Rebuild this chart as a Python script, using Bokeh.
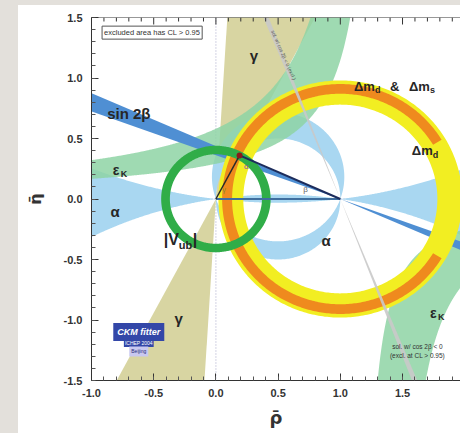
import numpy as np
from bokeh.plotting import figure
from bokeh.layouts import column, row
from bokeh.models import (Label, SingleIntervalTicker, PrintfTickFormatter, Span, Spacer)
from bokeh.embed import file_html
from bokeh.resources import INLINE

# ---------------- constraints in the (rho-bar, eta-bar) plane ----------------
apex_rho = [0.19]
apex_eta = [0.36]

gamma_window_deg = [62.0, 86.5]          # gamma (and its mirror through the origin)
alpha_window_deg = [70.0, 90.0]          # alpha crescents
alpha_axis_window_deg = [171.5, 187.0]   # alpha solution hugging the real axis
sin2beta_window_deg = [19.9, 23.6]       # beta from sin 2beta
sin2beta_alt_window_deg = [67.6, 69.0]   # second solution, cos 2beta < 0

dmd_radii = [0.78, 0.98]                 # |1 - rho - i eta| from dm_d
dms_radii = [0.87, 0.95]                 # dm_d & dm_s
dms_span_deg = [31.0, 329.0]
vub_radii = [0.37, 0.44]                 # |rho + i eta| from |Vub|

epsk_upper_a = [1.24, 1.34]              # eta (a - rho) = c, upper branch
epsk_upper_c = [0.72, 0.39]
epsk_lower_a = [1.16, 1.42]              # lower branch
epsk_lower_c = [0.21, 0.40]

rho_range = [-1.0, 1.966]
eta_range = [-1.5, 1.5]
tick_step = 0.5
minor_per_major = 5

TAN, SKY, EPSK = "#d8d5a2", "#a9d7f1", "#8ed3a4"
BLUE, YELLOW, ORANGE = "#4f8fd3", "#f2ee22", "#ef8a1e"
VUB, GREY, INK = "#30ad48", "#c9c9c9", "#262626"
AXIS = "#333333"
FONT = "Liberation Sans"

REACH = 4.0


def fan(cx, cy, a0, a1, n=60):
    t = np.radians(np.linspace(a0, a1, n))
    return (np.r_[cx, cx + REACH * np.cos(t)], np.r_[cy, cy + REACH * np.sin(t)])


def alpha_circle(a_deg):
    c = 0.5 / np.tan(np.radians(a_deg))
    return c, np.hypot(0.5, c), np.arctan2(c, 0.5)


def arc(c, r, t0, t1, n=160):
    t = np.linspace(t0, t1, n)
    return 0.5 + r * np.cos(t), c + r * np.sin(t)


def alpha_crescents(a_lo, a_hi):
    cb, rb, tb = alpha_circle(a_lo)
    cs, rs, ts = alpha_circle(a_hi)
    ux1, uy1 = arc(cb, rb, -tb, np.pi + tb)
    ux2, uy2 = arc(cs, rs, np.pi + ts, -ts)
    lx1, ly1 = arc(cs, rs, np.pi + ts, 2 * np.pi - ts)
    lx2, ly2 = arc(cb, rb, 2 * np.pi - tb, np.pi + tb)
    return [np.r_[ux1, ux2], np.r_[lx1, lx2]], [np.r_[uy1, uy2], np.r_[ly1, ly2]]


def alpha_axis_band(a_lo, a_hi):
    c_dn, r_dn, _ = alpha_circle(a_lo)
    c_up, r_up, _ = alpha_circle(a_hi - 180.0)
    rho = np.linspace(-1.3, 2.3, 500)
    top = c_up - np.sqrt(r_up ** 2 - (rho - 0.5) ** 2)
    bot = c_dn + np.sqrt(r_dn ** 2 - (rho - 0.5) ** 2)
    return np.r_[rho, rho[::-1]], np.r_[top, bot[::-1]]


def hyperbola_band(a, c, upper):
    if upper:
        ra = np.linspace(-1.3, a[0] - c[0] / 1.8, 400)
        rb = np.linspace(-1.3, a[1] - c[1] / 1.8, 400)
        ya, yb = c[0] / (a[0] - ra), c[1] / (a[1] - rb)
    else:
        ra = np.linspace(a[0] + c[0] / 1.8, 2.3, 400)
        rb = np.linspace(a[1] + c[1] / 1.8, 2.3, 400)
        ya, yb = -c[0] / (ra - a[0]), -c[1] / (rb - a[1])
    return np.r_[ra, rb[::-1]], np.r_[ya, yb[::-1]]


def circle_pts(cx, cy, r, a0=0.0, a1=360.0, n=360):
    t = np.radians(np.linspace(a0, a1, n))
    return cx + r * np.cos(t), cy + r * np.sin(t)


def ring(cx, cy, radii):
    ox, oy = circle_pts(cx, cy, radii[1])
    ix, iy = circle_pts(cx, cy, radii[0])
    return [[[list(ox), list(ix[::-1])]]], [[[list(oy), list(iy[::-1])]]]


p = figure(frame_width=369, frame_height=363,
           x_range=tuple(rho_range), y_range=tuple(eta_range),
           output_backend="svg", toolbar_location=None,
           min_border_left=73, min_border_right=0, min_border_top=12, min_border_bottom=53,
           background_fill_color="white", border_fill_color="white")
p.grid.visible = False
p.outline_line_color = None

# zero lines
for dim in ("height", "width"):
    p.add_layout(Span(location=0, dimension=dim, line_color="#a6a6c8",
                      line_dash="1 2", line_width=1, level="underlay"))

# gamma wedges
gx1, gy1 = fan(0, 0, gamma_window_deg[0], gamma_window_deg[1])
gx2, gy2 = fan(0, 0, gamma_window_deg[0] + 180, gamma_window_deg[1] + 180)
p.patches([gx1, gx2], [gy1, gy2], fill_color=TAN, line_color=None)

# alpha
ax, ay = alpha_crescents(*alpha_window_deg)
bx, by = alpha_axis_band(*alpha_axis_window_deg)
p.patches(ax + [bx], ay + [by], fill_color=SKY, line_color=None)

# epsilon_K
ex1, ey1 = hyperbola_band(epsk_upper_a, epsk_upper_c, True)
ex2, ey2 = hyperbola_band(epsk_lower_a, epsk_lower_c, False)
p.patches([ex1, ex2], [ey1, ey2], fill_color=EPSK, fill_alpha=0.85, line_color=None)

# sin 2beta
sx1, sy1 = fan(1, 0, 180 - sin2beta_window_deg[1], 180 - sin2beta_window_deg[0])
sx2, sy2 = fan(1, 0, 360 - sin2beta_window_deg[1], 360 - sin2beta_window_deg[0])
p.patches([sx1, sx2], [sy1, sy2], fill_color=BLUE, line_color=None)

# dm_d ring
mx, my = ring(1, 0, dmd_radii)
p.multi_polygons(xs=mx, ys=my, fill_color=YELLOW, line_color=None)

# dm_d & dm_s
ox, oy = circle_pts(1, 0, dms_radii[1], *dms_span_deg)
ix, iy = circle_pts(1, 0, dms_radii[0], *dms_span_deg)
p.patch(np.r_[ox, ix[::-1]], np.r_[oy, iy[::-1]], fill_color=ORANGE, line_color=None)

# |Vub| ring
vx, vy = ring(0, 0, vub_radii)
p.multi_polygons(xs=vx, ys=vy, fill_color=VUB, line_color=None)

# cos 2beta < 0 solution
cx1, cy1 = fan(1, 0, 180 - sin2beta_alt_window_deg[1], 180 - sin2beta_alt_window_deg[0])
cx2, cy2 = fan(1, 0, 360 - sin2beta_alt_window_deg[1], 360 - sin2beta_alt_window_deg[0])
p.patches([cx1, cx2], [cy1, cy2], fill_color=GREY, fill_alpha=0.9, line_color=None)

# the triangle
p.line([0, 1], [0, 0], line_color="#3f6e9e", line_width=2)
p.line([apex_rho[0], 1], [apex_eta[0], 0], line_color="#1c2c5c", line_width=2)
p.line([0, apex_rho[0]], [0, apex_eta[0]], line_color="#2a2a2a", line_width=1.5)
p.scatter(apex_rho, apex_eta, size=6, fill_color="#8b1a1a", line_color=None)

# axes (ticks drawn inside the frame)
for ax_ in (p.xaxis[0], p.yaxis[0]):
    ax_.ticker = SingleIntervalTicker(interval=tick_step, num_minor_ticks=minor_per_major)
    ax_.formatter = PrintfTickFormatter(format="%.1f")
    ax_.major_tick_in, ax_.major_tick_out = 7, 0
    ax_.minor_tick_in, ax_.minor_tick_out = 4, 0
    ax_.major_label_text_font = FONT
    ax_.major_label_text_font_style = "bold"
    ax_.major_label_text_font_size = "11px"
    ax_.major_label_text_color = AXIS
    ax_.axis_line_color = AXIS
    ax_.major_tick_line_color = AXIS
    ax_.minor_tick_line_color = "#555555"
    ax_.axis_label_text_font = "DejaVu Sans"
    ax_.axis_label_text_font_style = "bold"
    ax_.axis_label_text_color = AXIS
p.xaxis.axis_label = "\u03c1\u0304"
p.xaxis.axis_label_text_font_size = "18px"
p.xaxis.major_label_standoff = 8
p.xaxis.axis_label_standoff = 7
p.yaxis.axis_label = "\u03b7\u0304"
p.yaxis.axis_label_text_font_size = "16px"
p.yaxis.major_label_standoff = 9
p.yaxis.axis_label_standoff = 16

# top edge of the frame with inward ticks
p.add_layout(Span(location=eta_range[1], dimension="width", line_color=AXIS, line_width=1))
minor_step = tick_step / minor_per_major
top_ticks = np.arange(rho_range[0], rho_range[1] + 1e-9, minor_step)
is_major = np.isclose(np.mod(top_ticks - rho_range[0], tick_step), 0) | \
    np.isclose(np.mod(top_ticks - rho_range[0], tick_step), tick_step)
tick_len = np.where(is_major, 7, 4) / 121.0
p.segment(x0=top_ticks, y0=np.full_like(top_ticks, eta_range[1]),
          x1=top_ticks, y1=eta_range[1] - tick_len, line_color=AXIS, line_width=1)


def label(x, y, s, size, color=INK, style="bold", align="center", angle=0.0,
          xo=0, yo=0, font=FONT):
    p.add_layout(Label(x=x, y=y, text=s, text_font_size=f"{size}px", text_color=color,
                       text_font_style=style, text_align=align, text_baseline="middle",
                       angle=angle, x_offset=xo, y_offset=yo, text_font=font))


label(-0.70, 0.71, "sin 2\u03b2", 15)
label(0.305, 1.19, "\u03b3", 15)
label(-0.30, -0.99, "\u03b3", 15)
label(-0.83, 0.24, "\u03b5", 14, align="left")
label(-0.83, 0.24, "K", 9, align="left", xo=8, yo=-4)
label(1.72, -0.94, "\u03b5", 14, align="left")
label(1.72, -0.94, "K", 9, align="left", xo=8, yo=-4)
label(-0.81, -0.10, "\u03b1", 15)
label(0.885, -0.345, "\u03b1", 15)
label(-0.42, -0.335, "|V", 16, align="left")
label(-0.42, -0.335, "ub", 11, align="left", xo=15, yo=-5)
label(-0.42, -0.335, "|", 16, align="left", xo=29)
label(1.11, 0.93, "\u0394m", 13, align="left")
label(1.11, 0.93, "d", 9, align="left", xo=21, yo=-4)
label(1.11, 0.93, "&", 13, align="left", xo=36)
label(1.11, 0.93, "\u0394m", 13, align="left", xo=55)
label(1.11, 0.93, "s", 9, align="left", xo=76, yo=-4)
label(1.575, 0.40, "\u0394m", 13, align="left")
label(1.575, 0.40, "d", 9, align="left", xo=21, yo=-4)

# small angle marks near the triangle
label(0.245, 0.27, "\u03b1", 8, color="#8a4fa8", style="normal")
label(0.72, 0.075, "\u03b2", 8, color="#666666", style="normal")
label(0.065, 0.08, "\u03b3", 8, color="#8a8a30", style="normal")

# notes
p.add_layout(Label(x=-0.915, y=1.375, text="excluded area has CL > 0.95",
                   text_font_size="7.5px", text_font=FONT, text_color=AXIS,
                   text_baseline="middle", border_line_color="#555555",
                   background_fill_color="white", padding=2))
label(0.545, 1.19, "sol. w/ cos 2\u03b2 < 0 (excl.)", 5, color="#555555", style="normal",
      angle=np.radians(-66))
label(1.62, -1.215, "sol. w/ cos 2\u03b2 < 0", 6.5, color=AXIS, style="normal")
label(1.62, -1.295, "(excl. at CL > 0.95)", 6.5, color=AXIS, style="normal")

# logo
p.add_layout(Label(x=-0.62, y=-1.10, text="CKM fitter", text_font_size="9px",
                   text_font=FONT, text_font_style="bold italic", text_color="white",
                   text_align="center", text_baseline="middle",
                   background_fill_color="#3347a8", padding=4))
p.add_layout(Label(x=-0.62, y=-1.19, text="ICHEP 2004", text_font_size="5px",
                   text_font=FONT, text_color="white", text_align="center",
                   text_baseline="middle", background_fill_color="#3347a8", padding=1))
p.add_layout(Label(x=-0.62, y=-1.26, text="Beijing", text_font_size="5px",
                   text_font=FONT, text_color="#2a2a7a", text_align="center",
                   text_baseline="middle", background_fill_color="#c8c8f0", padding=2))

GREYBG = {"background-color": "#e3e0db"}
page = column(Spacer(width=460, height=5, styles=GREYBG),
              row(Spacer(width=18, height=428, styles=GREYBG), p))

open("out.html", "w").write(file_html(page, INLINE))
